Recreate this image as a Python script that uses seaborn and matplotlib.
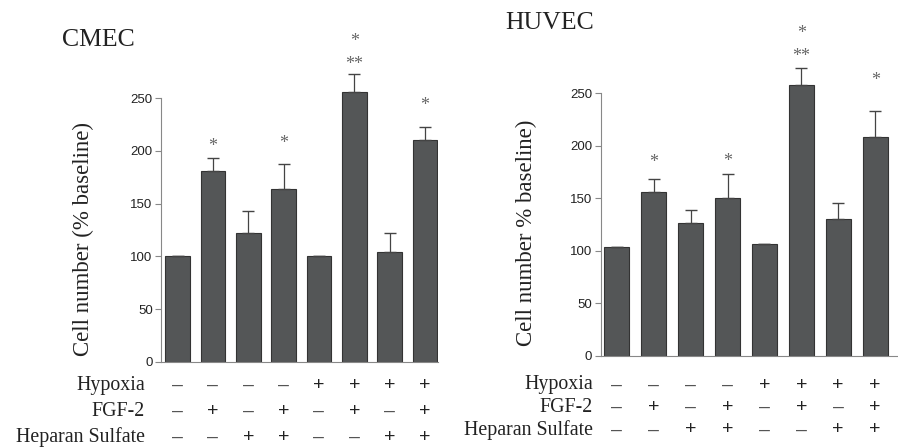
import matplotlib
matplotlib.use("Agg")
import matplotlib.pyplot as plt
import matplotlib.transforms as mtransforms
import seaborn as sns
import pandas as pd

# ---- data ----
conditions = ["c1", "c2", "c3", "c4", "c5", "c6", "c7", "c8"]
cmec_means = [100, 181, 122, 164, 100, 256, 104, 210]
cmec_err = [0, 12, 21, 24, 0, 17, 18, 13]
huvec_means = [104, 156, 127, 150, 107, 258, 130, 208]
huvec_err = [0, 12, 12, 23, 0, 16, 16, 25]
hypoxia = ["–", "–", "–", "–", "+", "+", "+", "+"]
fgf2 = ["–", "+", "–", "+", "–", "+", "–", "+"]
heparan = ["–", "–", "+", "+", "–", "–", "+", "+"]
row_labels = ["Hypoxia", "FGF-2", "Heparan Sulfate"]
cmec_stars = {1: [(204, "*")], 3: [(207, "*")], 5: [(282, "**"), (304, "*")], 7: [(243, "*")]}
huvec_stars = {1: [(184, "*")], 3: [(185, "*")], 5: [(285, "**"), (307, "*")], 7: [(262, "*")]}
yticks = [0, 50, 100, 150, 200, 250]

sns.set_theme(style="white")
plt.rcParams["font.family"] = ["Liberation Serif", "DejaVu Serif"]

W, H = 898, 447
fig = plt.figure(figsize=(W / 100, H / 100), dpi=100)

BAR = "#545657"
EDGE = "#333333"
SPINE = "#888888"
TXT = "#222222"


def px_ax(x0, x1, ybot, ytop):
    return [x0 / W, 1 - ybot / H, (x1 - x0) / W, (ybot - ytop) / H]


def panel(rect, means, errs, xlim, width, stars, title, title_xy, ylabel, ylabel_x,
          row_y, label_right):
    ax = fig.add_axes(rect)
    df = pd.DataFrame({"cond": conditions, "val": means})
    sns.barplot(data=df, x="cond", y="val", order=conditions, color=BAR,
                width=width, edgecolor=EDGE, linewidth=0.8, saturation=1, ax=ax,
                errorbar=None)
    xs = list(range(len(conditions)))
    ax.errorbar(xs, means, yerr=[[0] * len(errs), errs], fmt="none",
                ecolor="#444444", elinewidth=0.9, capsize=4, capthick=1.0)
    ax.set_xlim(*xlim)
    ax.set_ylim(0, 320)
    ax.set_yticks(yticks)
    ax.set_yticklabels([str(t) for t in yticks], family="Liberation Sans",
                       fontsize=9.5, color=TXT)
    ax.set_xticks([])
    ax.set_xlabel("")
    ax.set_ylabel(ylabel, fontsize=16.5, color=TXT)
    ax.yaxis.set_label_coords(ylabel_x, 0.365)
    ax.tick_params(axis="y", left=True, length=4, width=0.8, color=SPINE, pad=2)
    for s in ["top", "right"]:
        ax.spines[s].set_visible(False)
    ax.spines["left"].set_bounds(0, 250)
    ax.spines["left"].set_color(SPINE)
    ax.spines["bottom"].set_color(SPINE)
    ax.spines["left"].set_linewidth(0.8)
    ax.spines["bottom"].set_linewidth(0.8)
    for i, lst in stars.items():
        for yv, s in lst:
            ax.text(i, yv, s, ha="center", va="center", fontsize=13, color="#666666")
    fig.text(title_xy[0] / W, 1 - title_xy[1] / H, title, fontsize=18.5, color=TXT,
             ha="left", va="center")
    tr = mtransforms.blended_transform_factory(ax.transData, fig.transFigure)
    for r, (lab, signs) in enumerate(zip(row_labels, [hypoxia, fgf2, heparan])):
        yy = 1 - row_y[r] / H
        fig.text(label_right / W, yy, lab, fontsize=14.3, ha="right", va="center",
                 color=TXT)
        for i, sg in enumerate(signs):
            ax.text(i, yy, sg, transform=tr, ha="center", va="center",
                    fontsize=14, family="Liberation Sans",
                    color=TXT if sg == "+" else "#555555")
    return ax


panel(px_ax(161, 438, 361.7, 24.5), cmec_means, cmec_err, (-0.47, 7.37), 0.7,
      cmec_stars, "CMEC", (62, 40), "Cell number (% baseline)", -0.24,
      [385.5, 411, 437], 145)

panel(px_ax(600.7, 898, 356, 19.8), huvec_means, huvec_err, (-0.44, 7.62), 0.68,
      huvec_stars, "HUVEC", (505, 23), "Cell number % baseline)", -0.215,
      [385, 407, 430], 593)

fig.savefig("out.png", dpi=100)
